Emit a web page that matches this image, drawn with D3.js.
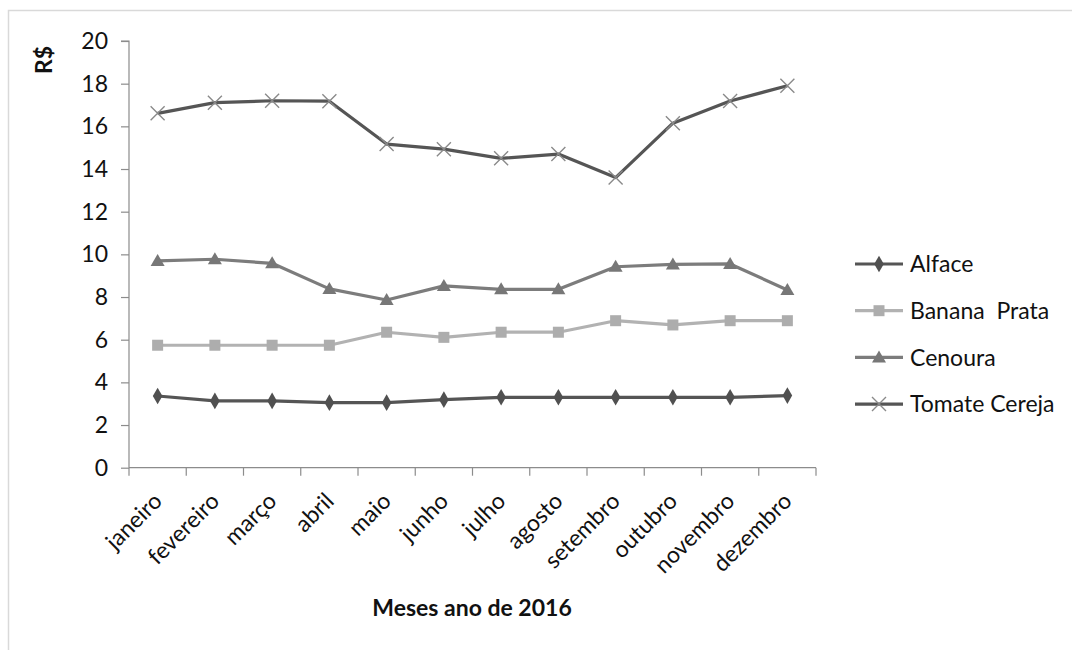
<!DOCTYPE html>
<html><head><meta charset="utf-8">
<script src="https://cdn.jsdelivr.net/npm/d3@7"></script>
<style>body{margin:0;background:#fff;} svg{display:block;font-family:Lato,"Open Sans",sans-serif;}</style>
</head><body>
<svg id="c" width="1072" height="650"></svg>
<script>
const months = ["janeiro","fevereiro","março","abril","maio","junho","julho","agosto","setembro","outubro","novembro","dezembro"];
const alface = [3.36,3.13,3.13,3.05,3.05,3.19,3.30,3.30,3.30,3.30,3.30,3.38];
const banana = [5.74,5.74,5.74,5.74,6.35,6.11,6.35,6.35,6.89,6.69,6.89,6.89];
const cenoura = [9.69,9.77,9.58,8.38,7.86,8.52,8.36,8.36,9.42,9.53,9.55,8.33];
const tomate = [16.61,17.11,17.2,17.18,15.17,14.93,14.5,14.7,13.6,16.15,17.19,17.9];
const seriesNames = ["Alface","Banana  Prata","Cenoura","Tomate Cereja"];
const yTicks = [0,2,4,6,8,10,12,14,16,18,20];

const series = [
  {name: seriesNames[0], values: alface, color: "#555555", marker: "diamond", mcolor: "#505050"},
  {name: seriesNames[1], values: banana, color: "#b2b2b2", marker: "square", mcolor: "#adadad"},
  {name: seriesNames[2], values: cenoura, color: "#7c7c7c", marker: "triangle", mcolor: "#777777"},
  {name: seriesNames[3], values: tomate, color: "#555555", marker: "x", mcolor: "#8a8a8a"}
];
const FS = 23;

const svg = d3.select("#c");
svg.append("path").attr("d","M8.5,650 L8.5,10.5 L1072,10.5").attr("fill","none").attr("stroke","#d9d9d9").attr("stroke-width",1.5);

const x = d3.scaleBand().domain(months).range([129, 816]).padding(0);
const y = d3.scaleLinear().domain([0,20]).range([467.7, 41]);
const axisColor = "#8c8c8c";

const gy = svg.append("g").attr("transform","translate(129,0)")
  .call(d3.axisLeft(y).tickValues(yTicks).tickSize(8).tickPadding(13).tickFormat(d3.format("d")));
gy.selectAll("path,line").attr("stroke", axisColor).attr("stroke-width",1.2);
gy.select(".domain").attr("d", `M-8,${y(20)}H0V${y(0)}`);
gy.selectAll("text").attr("font-size", FS).attr("fill","#111").attr("font-family","Lato");

const gx = svg.append("g").attr("transform",`translate(0,${y(0)})`);
gx.append("line").attr("x1",129).attr("x2",816).attr("y1",0).attr("y2",0).attr("stroke",axisColor).attr("stroke-width",1.2);
const bounds = months.map(m => x(m)).concat([x(months[months.length-1]) + x.bandwidth()]);
gx.selectAll("line.tk").data(bounds).enter().append("line").attr("class","tk")
  .attr("x1",d=>d).attr("x2",d=>d).attr("y1",0).attr("y2",8).attr("stroke",axisColor).attr("stroke-width",1.2);
gx.selectAll("text").data(months).enter().append("text")
  .attr("transform", d => `translate(${x(d)+x.bandwidth()/2+1},${30}) rotate(-45)`)
  .attr("text-anchor","end").attr("dy","0.3em").attr("font-size",FS).attr("fill","#111")
  .text(d=>d);

svg.append("text").attr("x", 472).attr("y", 616).attr("text-anchor","middle")
  .attr("font-size",FS).attr("font-weight","bold").attr("fill","#111").text("Meses ano de 2016");
svg.append("text").attr("transform","translate(52,60) rotate(-90)").attr("text-anchor","middle")
  .attr("font-size",FS).attr("font-weight","bold").attr("fill","#111").text("R$");

function drawMarker(g, type, color, cx, cy) {
  if (type === "diamond") {
    g.append("path").attr("d", d3.symbol(d3.symbolDiamond, 80)()).attr("transform",`translate(${cx},${cy})`)
      .attr("fill", color);
  } else if (type === "square") {
    g.append("rect").attr("x",cx-5.5).attr("y",cy-5.5).attr("width",11).attr("height",11).attr("fill",color);
  } else if (type === "triangle") {
    g.append("path").attr("d", `M${cx},${cy-7}L${cx+7},${cy+5}L${cx-7},${cy+5}Z`).attr("fill",color);
  } else if (type === "x") {
    g.append("path").attr("d", `M${cx-7},${cy-7}L${cx+7},${cy+7}M${cx-7},${cy+7}L${cx+7},${cy-7}`)
      .attr("stroke",color).attr("stroke-width",1.4).attr("fill","none");
  }
}

const line = d3.line().x((d,i)=>x(months[i])+x.bandwidth()/2).y(d=>y(d));
series.forEach(s => {
  const g = svg.append("g");
  g.append("path").datum(s.values).attr("d",line).attr("fill","none")
    .attr("stroke",s.color).attr("stroke-width",3.2).attr("stroke-linejoin","round");
  s.values.forEach((v,i) => drawMarker(g, s.marker, s.mcolor, x(months[i])+x.bandwidth()/2, y(v)));
});

const lg = svg.append("g");
series.forEach((s,i) => {
  const yy = 264 + i*46.7;
  lg.append("line").attr("x1",855).attr("x2",903).attr("y1",yy).attr("y2",yy).attr("stroke",s.color).attr("stroke-width",3.2);
  drawMarker(lg, s.marker, s.mcolor, 879, yy);
  lg.append("text").attr("x",910).attr("y",yy).attr("dy","0.36em").attr("font-size",FS).attr("fill","#111").text(s.name)
    .style("white-space","pre");
});
</script>
</body></html>
